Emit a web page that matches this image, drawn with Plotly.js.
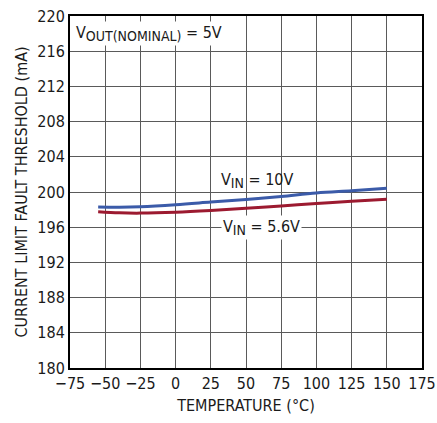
<!DOCTYPE html>
<html><head><meta charset="utf-8">
<script src="https://cdn.plot.ly/plotly-3.0.1.min.js"></script>
<style>body{margin:0;background:#fff}#c{width:437px;height:423px}</style>
</head><body><div id="c"></div>
<script>
const temps = [-55, -40, -25, 0, 25, 50, 75, 100, 125, 150];
const vin10 = [198.3, 198.28, 198.33, 198.55, 198.85, 199.15, 199.5, 199.9, 200.15, 200.42];
const vin56 = [197.75, 197.63, 197.6, 197.7, 197.9, 198.15, 198.42, 198.7, 198.95, 199.17];
const xTicks = [-75, -50, -25, 0, 25, 50, 75, 100, 125, 150, 175];
const yTicks = [180, 184, 188, 192, 196, 200, 204, 208, 212, 216, 220];
const FONT = '"Liberation Sans Narrow", "DejaVu Sans Condensed", "DejaVu Sans", sans-serif';
const data = [
  {x: temps, y: vin10, mode: 'lines', line: {color: '#3b5ba9', width: 3, shape: 'spline'}, hoverinfo: 'skip'},
  {x: temps, y: vin56, mode: 'lines', line: {color: '#9c1a30', width: 3, shape: 'spline'}, hoverinfo: 'skip'}
];
const sub = t => '<sub><span style="font-size:14px">' + t + '</span></sub>';
const layout = {
  width: 437, height: 423,
  margin: {l: 70, r: 15, t: 16, b: 55},
  showlegend: false,
  paper_bgcolor: '#fff', plot_bgcolor: '#fff',
  font: {family: FONT, size: 16, color: '#1a1a1a'},
  xaxis: {range: [-75, 175], tickvals: xTicks, ticktext: xTicks.map(v => v < 0 ? '\u2212' + (-v) : String(v)),
    showgrid: true, gridcolor: '#5a5a5a', gridwidth: 1, zeroline: false,
    showline: true, linecolor: '#000', linewidth: 2, mirror: true, ticks: '',
    title: {text: 'TEMPERATURE (°C)', font: {size: 16}, standoff: 8}},
  yaxis: {range: [180, 220], tickvals: yTicks,
    showgrid: true, gridcolor: '#5a5a5a', gridwidth: 1, zeroline: false,
    showline: true, linecolor: '#000', linewidth: 2, mirror: true, ticks: '',
    title: {text: 'CURRENT LIMIT FAULT THRESHOLD (mA)', font: {size: 16}, standoff: 6}},
  annotations: [
    {xref: 'paper', yref: 'paper', x: 0.01, y: 0.985, xanchor: 'left', yanchor: 'top',
     text: 'V' + sub('OUT(NOMINAL)') + ' = 5V', showarrow: false, bgcolor: '#fff', font: {size: 16}},
    {xref: 'x', yref: 'y', x: 58, y: 201.3, text: 'V' + sub('IN') + ' = 10V', showarrow: false, font: {size: 16}},
    {xref: 'x', yref: 'y', x: 61, y: 196.0, text: 'V' + sub('IN') + ' = 5.6V', showarrow: false, bgcolor: '#fff', font: {size: 16}}
  ]
};
Plotly.newPlot('c', data, layout, {staticPlot: true});
</script></body></html>
